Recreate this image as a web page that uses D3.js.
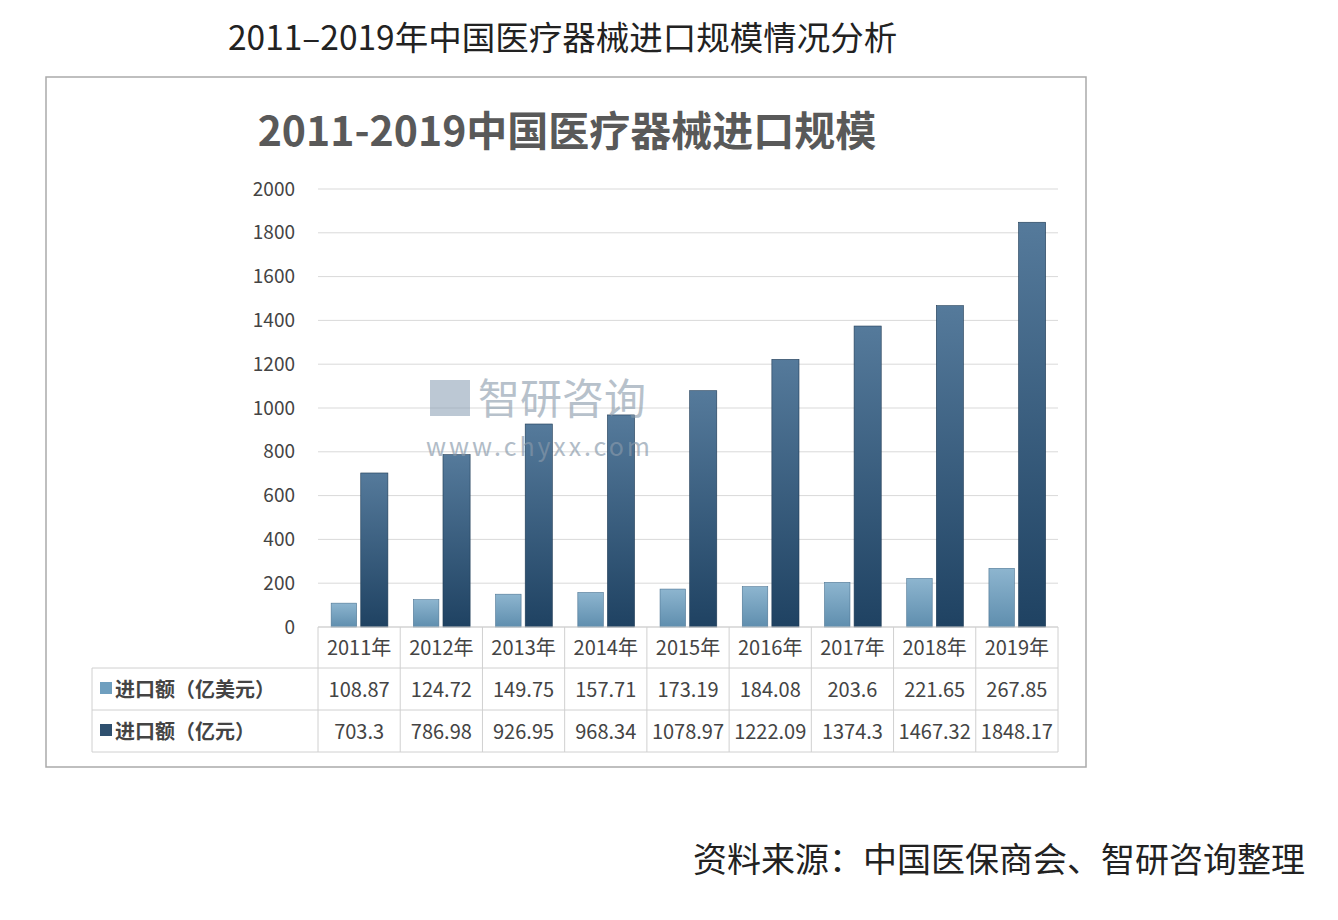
<!DOCTYPE html>
<html><head><meta charset="utf-8">
<script src="https://cdn.jsdelivr.net/npm/d3@7/dist/d3.min.js"></script>
<style>body{margin:0;background:#fff}svg{font-family:"Noto Sans CJK SC","Noto Sans",sans-serif}</style>
</head><body><svg id="c" width="1338" height="920"></svg>
<script>
const years=["2011年","2012年","2013年","2014年","2015年","2016年","2017年","2018年","2019年"];
const usd=[108.87,124.72,149.75,157.71,173.19,184.08,203.6,221.65,267.85];
const cny=[703.3,786.98,926.95,968.34,1078.97,1222.09,1374.3,1467.32,1848.17];
const usdLabels=["108.87","124.72","149.75","157.71","173.19","184.08","203.6","221.65","267.85"];
const cnyLabels=["703.3","786.98","926.95","968.34","1078.97","1222.09","1374.3","1467.32","1848.17"];
const seriesNames=["进口额（亿美元）","进口额（亿元）"];
const yTicks=[0,200,400,600,800,1000,1200,1400,1600,1800,2000];

const svg=d3.select("#c");
const defs=svg.append("defs");
function grad(id,c1,c2){const g=defs.append("linearGradient").attr("id",id).attr("x1",0).attr("x2",0).attr("y1",0).attr("y2",1);
g.append("stop").attr("offset",0).attr("stop-color",c1);g.append("stop").attr("offset",1).attr("stop-color",c2);}
grad("g1","#8db5cf","#5f8eae");grad("g2","#557a9b","#1f4262");

svg.append("text").attr("x",228).attr("y",50).attr("font-size",33.5).attr("fill","#222").text("2011–2019年中国医疗器械进口规模情况分析");
svg.append("rect").attr("x",46).attr("y",77).attr("width",1040).attr("height",690).attr("fill","#fff").attr("stroke","#aaa").attr("stroke-width",1.5);
svg.append("text").attr("x",567).attr("y",146).attr("text-anchor","middle").attr("font-size",41).attr("font-weight","bold").attr("fill","#595959").text("2011-2019中国医疗器械进口规模");

const x=d3.scaleBand().domain(years).range([318,1058]);
const y=d3.scaleLinear().domain([0,2000]).range([627,189]);
svg.append("g").selectAll("line").data(yTicks).join("line").attr("x1",318).attr("x2",1058).attr("y1",d=>y(d)).attr("y2",d=>y(d)).attr("stroke","#d9d9d9");
const ax=svg.append("g").attr("transform","translate(298,0)").call(d3.axisLeft(y).tickValues(yTicks).tickSize(0).tickFormat(d3.format("d")));
ax.select(".domain").remove();ax.selectAll("text").attr("font-size",19).attr("fill","#444").attr("font-family","Noto Sans CJK SC");

const bw=x.bandwidth();
svg.append("g").selectAll("rect").data(usd).join("rect").attr("x",(d,i)=>x(years[i])+bw*0.16).attr("width",bw*0.31)
 .attr("y",d=>y(d)).attr("height",d=>y(0)-y(d)).attr("fill","url(#g1)").attr("stroke","#4d7593").attr("stroke-width",0.6);
svg.append("g").selectAll("rect").data(cny).join("rect").attr("x",(d,i)=>x(years[i])+bw*0.52).attr("width",bw*0.33)
 .attr("y",d=>y(d)).attr("height",d=>y(0)-y(d)).attr("fill","url(#g2)").attr("stroke","#1f3b55").attr("stroke-width",0.6);

// watermark (over bars)
svg.append("rect").attr("x",430).attr("y",380).attr("width",40).attr("height",36).attr("fill","#8fa3b8").attr("opacity",0.6);
svg.append("text").attr("x",478).attr("y",414).attr("font-size",42).attr("fill","#8899aa").attr("opacity",0.6).text("智研咨询");
svg.append("text").attr("x",426).attr("y",456).attr("font-size",25).attr("letter-spacing",3).attr("fill","#8899aa").attr("opacity",0.65).text("www.chyxx.com");

// table
const tc="#d0d0d0";
const rowsY=[627,668,710,752];
rowsY.forEach((ry,i)=>svg.append("line").attr("x1",i==0?318:92).attr("x2",1058).attr("y1",ry).attr("y2",ry).attr("stroke",tc));
svg.append("line").attr("x1",92).attr("x2",92).attr("y1",668).attr("y2",752).attr("stroke",tc);
years.forEach(yr=>svg.append("line").attr("x1",x(yr)).attr("x2",x(yr)).attr("y1",627).attr("y2",752).attr("stroke",tc));
svg.append("line").attr("x1",1058).attr("x2",1058).attr("y1",627).attr("y2",752).attr("stroke",tc);
const tf=s=>s.attr("font-size",20).attr("fill","#444").attr("text-anchor","middle");
years.forEach((yr,i)=>{
 tf(svg.append("text").attr("x",x(yr)+bw/2).attr("y",655)).text(yr);
 tf(svg.append("text").attr("x",x(yr)+bw/2).attr("y",697)).text(usdLabels[i]);
 tf(svg.append("text").attr("x",x(yr)+bw/2).attr("y",739)).text(cnyLabels[i]);
});
[["#6f9fbf",697],["#2f506f",739]].forEach((c,i)=>{
 svg.append("rect").attr("x",100).attr("y",c[1]-15).attr("width",12).attr("height",12).attr("fill",c[0]);
 svg.append("text").attr("x",115).attr("y",c[1]).attr("font-size",20).attr("font-weight","bold").attr("fill","#444").text(seriesNames[i]);
});
svg.append("text").attr("x",1305).attr("y",872).attr("text-anchor","end").attr("font-size",34).attr("fill","#222").text("资料来源：中国医保商会、智研咨询整理");
</script></body></html>
